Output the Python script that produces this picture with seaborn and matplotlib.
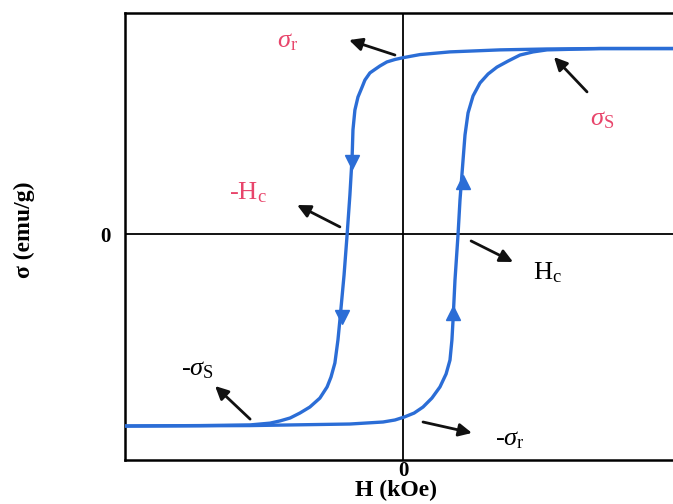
import matplotlib
matplotlib.use("Agg")
import matplotlib.pyplot as plt
import seaborn as sns
import pandas as pd

# Descending branch of the hysteresis loop (from +H saturation down to -H)
h_down = [9.71, 7.09, 5.18, 3.49, 1.69, 0.61, 0.0, -0.29, -0.58, -0.83, -1.04,
          -1.19, -1.37, -1.47, -1.62, -1.73, -1.80, -1.83, -1.91, -2.01, -2.12,
          -2.27, -2.34, -2.45, -2.59, -2.73, -2.99, -3.35, -3.71, -4.06, -4.42,
          -4.78, -5.50, -7.30, -10.0]
s_down = [0.832, 0.832, 0.830, 0.826, 0.817, 0.805, 0.791, 0.783, 0.772, 0.754,
          0.736, 0.723, 0.691, 0.660, 0.615, 0.557, 0.468, 0.347, 0.177, 0.0,
          -0.181, -0.383, -0.472, -0.575, -0.638, -0.682, -0.732, -0.772, -0.799,
          -0.821, -0.834, -0.844, -0.852, -0.855, -0.857]

# Ascending branch (from -H saturation back up to +H)
h_up = [-10.0, -5.50, -1.91, -0.72, -0.29, 0.04, 0.40, 0.72, 1.04, 1.33, 1.55,
        1.69, 1.76, 1.80, 1.87, 1.98, 2.05, 2.16, 2.23, 2.34, 2.52, 2.77, 3.06,
        3.38, 3.78, 4.21, 4.68, 5.18, 7.09, 9.71]
s_up = [-0.857, -0.855, -0.848, -0.839, -0.830, -0.817, -0.799, -0.772, -0.732,
        -0.682, -0.624, -0.562, -0.472, -0.383, -0.204, 0.0, 0.154, 0.333, 0.445,
        0.544, 0.620, 0.678, 0.718, 0.749, 0.776, 0.803, 0.817, 0.826, 0.832, 0.832]

# Direction markers along the steep parts of each branch
dir_down_h = [-1.83, -2.19]
dir_down_s = [0.324, -0.369]
dir_up_h = [2.16, 1.80]
dir_up_s = [0.235, -0.351]

# Callouts: label text, label position, arrow tail, arrow head, colour
callout_text = [r"$\sigma_{\mathrm{r}}$", r"-H$_{\mathrm{c}}$", r"H$_{\mathrm{c}}$",
                r"-$\sigma_{\mathrm{S}}$", r"-$\sigma_{\mathrm{r}}$", r"$\sigma_{\mathrm{S}}$"]
callout_label = [(-4.17, 0.861), (-5.58, 0.186), (5.18, -0.172),
                 (-7.41, -0.606), (3.85, -0.919), (7.16, 0.512)]
callout_tail = [(-0.29, 0.803), (-2.27, 0.034), (2.45, -0.029),
                (-5.50, -0.826), (0.72, -0.839), (6.62, 0.638)]
callout_head = [(-1.94, 0.870), (-3.81, 0.132), (3.96, -0.123),
                (-6.76, -0.678), (2.48, -0.888), (5.43, 0.794)]
RED = "#e8456b"
callout_color = [RED, RED, "black", "black", "black", RED]

sns.set_theme(style="white")
plt.rcParams["font.family"] = ["Liberation Serif", "DejaVu Serif"]
plt.rcParams["mathtext.fontset"] = "custom"
plt.rcParams["mathtext.rm"] = "Liberation Serif"
plt.rcParams["mathtext.it"] = "Liberation Serif:italic"
plt.rcParams["mathtext.bf"] = "Liberation Serif:bold"
plt.rcParams["text.color"] = "black"
plt.rcParams["axes.labelcolor"] = "black"
plt.rcParams["xtick.color"] = "black"
plt.rcParams["ytick.color"] = "black"

fig = plt.figure(figsize=(6.73, 5.04), dpi=100)
ax = fig.add_axes([125 / 673, 44 / 504, 556 / 673, 447 / 504])

BLUE = "#2b6dd6"
down = pd.DataFrame({"H": h_down, "sigma": s_down})
up = pd.DataFrame({"H": h_up, "sigma": s_up})
ax.axhline(0, color="black", lw=1.3, zorder=1)
ax.axvline(0, color="black", lw=1.3, zorder=1)
for branch in (down, up):
    sns.lineplot(data=branch, x="H", y="sigma", sort=False, estimator=None,
                 color=BLUE, lw=2.4, ax=ax, zorder=3,
                 solid_joinstyle="round", solid_capstyle="round")
ax.plot(dir_down_h, dir_down_s, ls="none", marker="v", ms=10, color=BLUE, zorder=4)
ax.plot(dir_up_h, dir_up_s, ls="none", marker="^", ms=10, color=BLUE, zorder=4)

for txt, lab, tail, head, col in zip(callout_text, callout_label, callout_tail,
                                     callout_head, callout_color):
    ax.annotate("", xy=head, xytext=tail,
                arrowprops=dict(arrowstyle="-|>,head_length=0.65,head_width=0.32",
                                lw=2.0, color="#111111", shrinkA=0, shrinkB=0))
    ax.text(lab[0], lab[1], txt, color=col, fontsize=19, ha="center", va="center")

ax.set_xlim(-10, 10)
ax.set_ylim(-1.009, 0.991)
ax.set_xticks([0])
ax.set_xticklabels(["0"], fontsize=15, fontweight="bold")
ax.set_yticks([0])
ax.set_yticklabels(["0"], fontsize=15, fontweight="bold")
ax.tick_params(axis="x", length=0, pad=1)
ax.tick_params(axis="y", length=0, pad=10)
ax.set_xlabel("H (kOe)", fontsize=17, fontweight="bold")
ax.xaxis.set_label_coords((396 - 125) / 556, -(480 - 460) / 447)
ax.set_ylabel("σ (emu/g)", fontsize=17, fontweight="bold")
ax.yaxis.set_label_coords(-(125 - 35) / 556, (460 - 230) / 447)
for side in ["left", "bottom", "top"]:
    ax.spines[side].set_color("black")
    ax.spines[side].set_linewidth(1.8)
ax.spines["right"].set_visible(False)

fig.savefig("out.png", dpi=100, facecolor="white")
